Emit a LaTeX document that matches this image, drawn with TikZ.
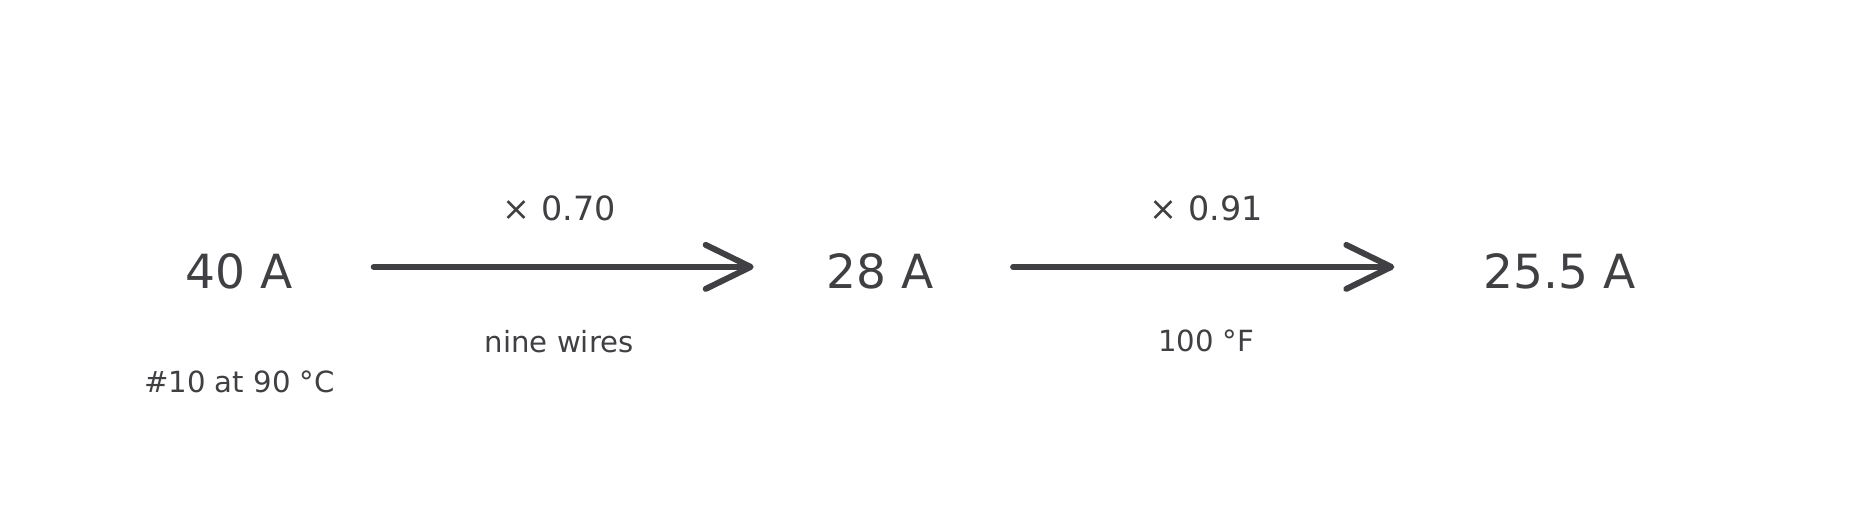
\documentclass[tikz,border=0pt]{standalone}
\usepackage{fontspec}
\setmainfont{DejaVu Sans}
\usetikzlibrary{arrows.meta,positioning}
\usepackage{xcolor}
\definecolor{ink}{HTML}{404044}

\begin{document}
\begin{tikzpicture}[%
    amp/.style={inner sep=0pt, text=ink, font=\fontsize{13.4}{16}\selectfont},%
    factor/.style={inner sep=0pt, text=ink, font=\fontsize{9.5}{11}\selectfont},%
    cond/.style={inner sep=0pt, text=ink, font=\fontsize{8.3}{10}\selectfont},%
    flow/.style={draw=ink, line width=1.7pt, line cap=round,%
      -{Straight Barb[length=4.5mm, width=4.4mm, round]}}%
  ]
  \useasboundingbox (0,0) rectangle (18.67,5.07);%

  % Nodes
  \node[amp, minimum width=1.23cm] (a1) at (2.395,2.354) {40 A};%
  \node[amp, minimum width=1.26cm] (a2) at (8.804,2.354) {28 A};%
  \node[amp, minimum width=1.81cm] (a3) at (15.595,2.354) {25.5 A};%
  \node[cond, below=0.8cm of a1] (a1note) {\#10 at 90 °C};%

  % Arrows
  \draw[flow, shorten <=0.72cm, shorten >=0.63cm]%
    ([yshift=0.47mm]a1.east) -- ([yshift=0.47mm]a2.west)%
    node[factor, midway, above=0.43cm] (f1) {× 0.70}%
    node[cond, midway, below=0.6cm] (c1) {nine wires};%
  \draw[flow, shorten <=0.69cm, shorten >=0.74cm]%
    ([yshift=0.47mm]a2.east) -- ([yshift=0.47mm]a3.west)%
    node[factor, midway, above=0.43cm] (f2) {× 0.91}%
    node[cond, midway, below=0.6cm] (c2) {100 °F};%
\end{tikzpicture}
\end{document}
